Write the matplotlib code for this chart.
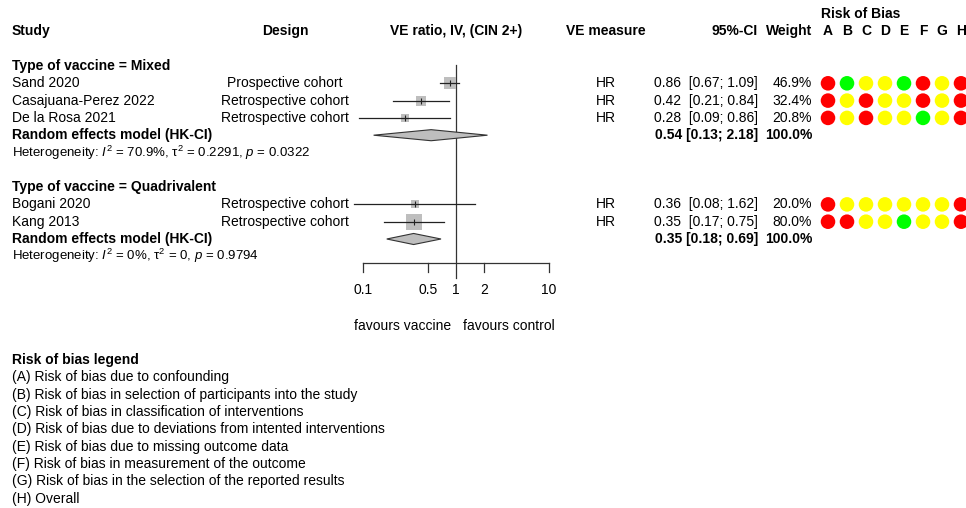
import numpy as np
import matplotlib.pyplot as plt

# fonts: Arial-like
plt.rcParams['font.family'] = ['Liberation Sans', 'DejaVu Sans']
plt.rcParams['mathtext.fontset'] = 'custom'
plt.rcParams['mathtext.rm'] = 'Liberation Sans'
plt.rcParams['mathtext.it'] = 'Liberation Sans:italic'

# ---- data ----
groups = ["Mixed", "Quadrivalent"]
study_group = ["Mixed", "Mixed", "Mixed", "Quadrivalent", "Quadrivalent"]
studies = ["Sand 2020", "Casajuana-Perez 2022", "De la Rosa 2021", "Bogani 2020", "Kang 2013"]
designs = ["Prospective cohort", "Retrospective cohort", "Retrospective cohort",
           "Retrospective cohort", "Retrospective cohort"]
measures = ["HR", "HR", "HR", "HR", "HR"]
est = [0.86, 0.42, 0.28, 0.36, 0.35]
lower = [0.67, 0.21, 0.09, 0.08, 0.17]
upper = [1.09, 0.84, 0.86, 1.62, 0.75]
weights = [46.9, 32.4, 20.8, 20.0, 80.0]
# risk of bias per domain A..H: H = high, S = some concerns, L = low
rob = ["HLSSLHSH", "HSHSSHSH", "HSHSSLSH", "HSSSSSSH", "HHSSLSSH"]
rob_domains = ["A", "B", "C", "D", "E", "F", "G", "H"]

pooled_est = [0.54, 0.35]
pooled_lower = [0.13, 0.18]
pooled_upper = [2.18, 0.69]
het_i2 = ["70.9%", "0%"]
het_tau2 = ["0.2291", "0"]
het_p = ["0.0322", "0.9794"]

ticks = [0.1, 0.5, 1, 2, 10]
tick_labels = ["0.1", "0.5", "1", "2", "10"]

legend_items = [
    "(A) Risk of bias due to confounding",
    "(B) Risk of bias in selection of participants into the study",
    "(C) Risk of bias in classification of interventions",
    "(D) Risk of bias due to deviations from intented interventions",
    "(E) Risk of bias due to missing outcome data",
    "(F) Risk of bias in measurement of the outcome",
    "(G) Risk of bias in the selection of the reported results",
    "(H) Overall",
]

rob_colors = {"H": "#FF0000", "S": "#FFFF00", "L": "#00FF00"}

# ---- layout (pixels) ----
W, H = 966, 508
row_px, top_px = 17.3, 66
x_study, x_design, x_forest, x_measure = 12, 285, 456, 606
x_ci, x_weight, x_rob0, dx_rob = 758, 812, 828, 19
px_decade = 93
fs = 10
fs_small = 9.5

fig = plt.figure(figsize=(W / 100, H / 100), dpi=100)
tab = fig.add_axes([0, 0, 1, 1])
tab.set_xlim(0, W)
tab.set_ylim((H - top_px) / row_px, -top_px / row_px)
tab.axis('off')

fp = fig.add_axes([0, 0, 1, 1])
fp.set_xscale('log')
fp.set_xlim(10 ** (-x_forest / px_decade), 10 ** ((W - x_forest) / px_decade))
fp.set_ylim(tab.get_ylim())
fp.axis('off')

# headers
tab.text(x_rob0 - 7, -3, "Risk of Bias", fontsize=fs, fontweight='bold', va='center')
tab.text(x_study, -2, "Study", fontsize=fs, fontweight='bold', va='center')
tab.text(x_design, -2, "Design", fontsize=fs, fontweight='bold', va='center', ha='center')
tab.text(x_forest, -2, "VE ratio, IV, (CIN 2+)", fontsize=fs, fontweight='bold', va='center', ha='center')
tab.text(x_measure, -2, "VE measure", fontsize=fs, fontweight='bold', va='center', ha='center')
tab.text(x_ci, -2, "95%-CI", fontsize=fs, fontweight='bold', va='center', ha='right')
tab.text(x_weight, -2, "Weight", fontsize=fs, fontweight='bold', va='center', ha='right')
for j, d in enumerate(rob_domains):
    tab.text(x_rob0 + j * dx_rob, -2, d, fontsize=fs, fontweight='bold', va='center', ha='center')

r = 0
for g, grp in enumerate(groups):
    tab.text(x_study, r, "Type of vaccine = " + grp, fontsize=fs, fontweight='bold', va='center')
    r += 1
    for i in range(len(studies)):
        if study_group[i] != grp:
            continue
        tab.text(x_study, r, studies[i], fontsize=fs, va='center')
        tab.text(x_design, r, designs[i], fontsize=fs, va='center', ha='center')
        tab.text(x_measure, r, measures[i], fontsize=fs, va='center', ha='center')
        tab.text(x_ci, r, f"{est[i]:.2f}  [{lower[i]:.2f}; {upper[i]:.2f}]", fontsize=fs, va='center', ha='right')
        tab.text(x_weight, r, f"{weights[i]:.1f}%", fontsize=fs, va='center', ha='right')
        # forest marks: square area follows the weight
        side = 1.68 * np.sqrt(weights[i]) * 0.72
        fp.scatter([est[i]], [r], marker='s', s=side ** 2, color='#BEBEBE', linewidths=0, zorder=2)
        fp.plot([lower[i], upper[i]], [r, r], color='#222222', lw=0.9, zorder=3)
        fp.plot([est[i]], [r], marker='|', ms=4, color='#222222', mew=0.8, zorder=3)
        # risk of bias dots
        xs = [x_rob0 + j * dx_rob for j in range(len(rob_domains))]
        tab.scatter(xs, [r] * len(xs), s=110, color=[rob_colors[c] for c in rob[i]], linewidths=0)
        r += 1
    tab.text(x_study, r, "Random effects model (HK-CI)", fontsize=fs, fontweight='bold', va='center')
    tab.text(x_ci, r, f"{pooled_est[g]:.2f} [{pooled_lower[g]:.2f}; {pooled_upper[g]:.2f}]",
             fontsize=fs, fontweight='bold', va='center', ha='right')
    tab.text(x_weight, r, "100.0%", fontsize=fs, fontweight='bold', va='center', ha='right')
    hh = 0.32
    fp.fill([pooled_lower[g], pooled_est[g], pooled_upper[g], pooled_est[g]],
            [r, r - hh, r, r + hh], facecolor='#BEBEBE', edgecolor='#333333', lw=0.8, zorder=2)
    r += 1
    tab.text(x_study, r, f"Heterogeneity: $I^2$ = {het_i2[g]}, τ$^2$ = {het_tau2[g]}, $p$ = {het_p[g]}",
             fontsize=fs_small, va='center')
    r += 2

# reference line and x axis
fp.plot([1, 1], [-0.05, 12.25], color='#333333', lw=0.9, zorder=1)
ax_r = 11.4
fp.plot([ticks[0], ticks[-1]], [ax_r, ax_r], color='#333333', lw=0.9)
for t, lab in zip(ticks, tick_labels):
    if t != 1:
        fp.plot([t, t], [ax_r, ax_r + 0.5], color='#333333', lw=0.9)
    fp.text(t, 12.95, lab, fontsize=fs, ha='center', va='center')
tab.text(x_forest - 5, 15, "favours vaccine", fontsize=fs, ha='right', va='center')
tab.text(x_forest + 7, 15, "favours control", fontsize=fs, ha='left', va='center')

# risk of bias legend
tab.text(x_study, 17, "Risk of bias legend", fontsize=fs, fontweight='bold', va='center')
for k, item in enumerate(legend_items):
    tab.text(x_study, 18 + k, item, fontsize=fs, va='center')

fig.savefig("out.png", dpi=100)
